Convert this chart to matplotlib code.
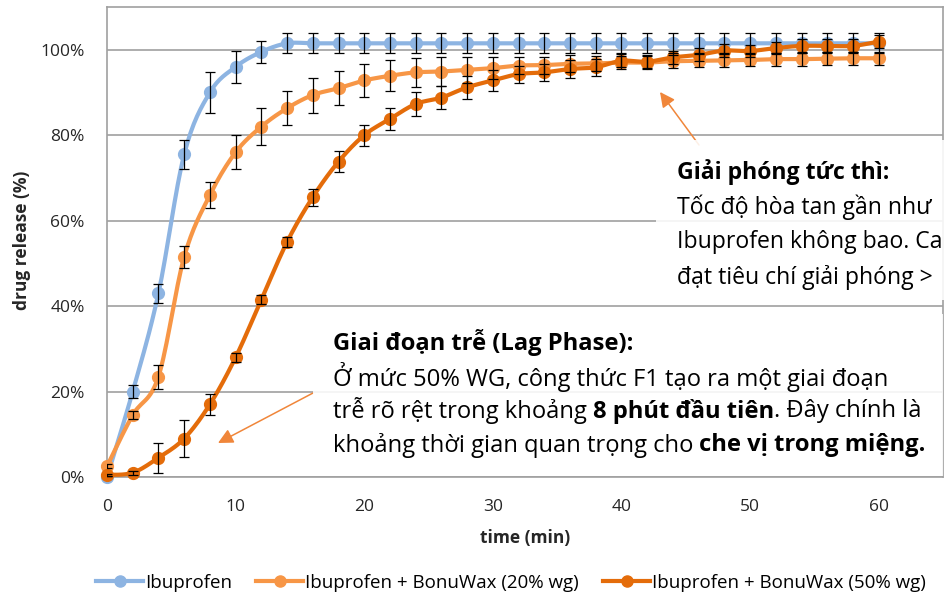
#!/usr/bin/env python

""" Dissolution profile of Ibuprofen with and without BonuWax coating. """

import numpy as np
import matplotlib
matplotlib.use("Agg")
import matplotlib.pyplot as plt
from matplotlib.patches import Rectangle
from matplotlib.ticker import PercentFormatter

plt.rcParams['font.family'] = ['Open Sans', 'DejaVu Sans']

W, H = 945, 604

# Sampling times (min)
time_min = [0, 2, 4, 6, 8, 10, 12, 14, 16, 18, 20, 22, 24, 26, 28, 30,
            32, 34, 36, 38, 40, 42, 44, 46, 48, 50, 52, 54, 56, 58, 60]

# Drug release (%) and standard deviation
ibu = [0, 20, 43, 75.5, 90, 96, 99.5, 101.5,
       101.5, 101.5, 101.5, 101.5, 101.5, 101.5, 101.5, 101.5,
       101.5, 101.5, 101.5, 101.5,
       101.5, 101.5, 101.5, 101.5, 101.5, 101.5, 101.5, 101.5,
       101.5, 101.5, 101.5]
ibu_err = [0.3, 1.5, 2.2, 3.3, 4.7, 3.7, 2.6, 2.3,
           2.3, 2.3, 2.3, 2.3, 2.3, 2.3, 2.3, 2.3, 2.3, 2.3, 2.3, 2.3,
           2.3, 2.3, 2.3, 2.3, 2.3, 2.3, 2.3, 2.3, 2.3, 2.3, 2.3]

wax20 = [2.5, 14.5, 23.5, 51.5, 66, 76, 82, 86.3,
         89.4, 91, 92.8, 93.9, 94.7, 94.9, 95.3, 95.7, 96.3, 96.4, 96.7, 96.8,
         97.0, 97.0, 97.3, 97.4, 97.5, 97.6, 97.8, 97.8, 97.9, 98.0, 98.0]
wax20_err = [0.5, 1, 2.8, 2.5, 3, 4, 4.3, 4,
             4.1, 4, 3.8, 3.6, 3.4, 3.3, 3, 2.5, 2, 2, 2, 1.8,
             1.5, 1.5, 1.5, 1.5, 1.5, 1.5, 1.5, 1.5, 1.5, 1.5, 1.5]

wax50 = [0.5, 1, 4.5, 9, 17, 28, 41.5, 55,
         65.5, 73.8, 80, 83.8, 87.3, 88.8, 91.2, 92.8, 94.3, 94.7, 95.5, 95.9,
         97.4, 97.2, 98.2, 98.8, 99.8, 99.7, 100.4, 100.9, 100.9, 100.9, 101.9]
wax50_err = [0.3, 0.5, 3.5, 4.4, 2.4, 1, 1, 1.2,
             2, 2.5, 2.5, 2.5, 2.9, 2.7, 2.7, 2.5, 2, 2, 2, 2,
             1.5, 1.5, 1.5, 1.5, 1.5, 1.5, 1.5, 1.5, 1.5, 1.5, 1.5]

labels = ["Ibuprofen", "Ibuprofen + BonuWax (20% wg)",
          "Ibuprofen + BonuWax (50% wg)"]
colors = ["#8db4e2", "#f79646", "#e46c0a"]

y_ticks = [0, 20, 40, 60, 80, 100]
x_ticks = [0, 10, 20, 30, 40, 50, 60]


def smooth(x, y, n=16):
    """ Excel-like smoothed line through the points (Bezier segments). """
    p = np.column_stack([np.asarray(x, float), np.asarray(y, float)])
    p = np.vstack([p[0], p, p[-1]])
    t = np.linspace(0, 1, n, endpoint=False)[:, None]
    out = []
    for i in range(1, len(p) - 2):
        p0, p1, p2, p3 = p[i - 1], p[i], p[i + 1], p[i + 2]
        c1 = p1 + (p2 - p0) / 6.0
        c2 = p2 - (p3 - p1) / 6.0
        seg = ((1 - t) ** 3 * p1 + 3 * (1 - t) ** 2 * t * c1
               + 3 * (1 - t) * t ** 2 * c2 + t ** 3 * p2)
        out.append(seg)
    out.append(p[-2][None, :])
    out = np.vstack(out)
    return out[:, 0], out[:, 1]


def px(x, y):
    """ Image pixel (top-left origin) to figure fraction. """
    return x / W, 1 - y / H


fig = plt.figure(figsize=(W / 100, H / 100), dpi=100)
ax = fig.add_axes([107 / W, (H - 477) / H, (943 - 107) / W, (477 - 7) / H])

series = [(ibu, ibu_err), (wax20, wax20_err), (wax50, wax50_err)]
handles = []
for i, (vals, errs) in enumerate(series):
    sx, sy = smooth(time_min, vals)
    ax.plot(sx, sy, color=colors[i], lw=3, zorder=2 + i, clip_on=False,
            solid_capstyle='round')
    ax.plot(time_min, vals, 'o', color=colors[i], ms=8.5, zorder=2 + i,
            clip_on=False)
    ax.errorbar(time_min, vals, yerr=errs, fmt='none', ecolor='black',
                elinewidth=0.9, capsize=3.5, capthick=0.9, zorder=6)
    h, = ax.plot([], [], '-o', color=colors[i], lw=3, ms=8)
    handles.append(h)

ax.set_xlim(0, 65)
ax.set_ylim(0, 110)
ax.set_yticks(y_ticks)
ax.set_xticks(x_ticks)
ax.yaxis.set_major_formatter(PercentFormatter(100, decimals=0))
ax.tick_params(axis='both', length=0, labelsize=12.5, colors='#262626')
ax.tick_params(axis='y', pad=16)
ax.tick_params(axis='x', pad=16)
ax.grid(axis='y', color='#a0a0a0', lw=1.2, zorder=0)
for side in ['left', 'bottom', 'top', 'right']:
    ax.spines[side].set_color('#a0a0a0')
    ax.spines[side].set_linewidth(1.2)

fig.text(*px(22, 240), "drug release (%)", rotation=90, fontsize=12.5,
         fontweight='bold', ha='center', va='center', color='#262626')
fig.text(*px(525, 538), "time (min)", fontsize=12.5, fontweight='bold',
         ha='center', va='center', color='#262626')

fig.legend(handles, labels, loc='center', bbox_to_anchor=px(511, 583),
           ncol=3, frameon=False, fontsize=13.5, handlelength=2.5,
           handletextpad=0.1, columnspacing=1.3)

# Annotation boxes (semi-transparent white, no border)
for x0, y0, x1, y1 in [(656, 140, 960, 300), (313, 314, 943, 476)]:
    fig.patches.append(Rectangle(px(x0, y1), (x1 - x0) / W, (y1 - y0) / H,
                                 transform=fig.transFigure, facecolor='white',
                                 alpha=0.88, edgecolor='none', zorder=8))

renderer = fig.canvas.get_renderer()


def rich_line(x, y, parts, size=16.6):
    for s, bold in parts:
        t = fig.text(*px(x, y), s, fontsize=size, va='center', ha='left',
                     fontweight='bold' if bold else 'normal', zorder=9,
                     color='black')
        x += t.get_window_extent(renderer).width


box1 = [
    [("Giải phóng tức thì:", True)],
    [("Tốc độ hòa tan gần như", False)],
    [("Ibuprofen không bao. Ca", False)],
    [("đạt tiêu chí giải phóng >", False)],
]
for k, parts in enumerate(box1):
    rich_line(677, 172 + 35 * k, parts)

box2 = [
    [("Giai đoạn trễ (Lag Phase):", True)],
    [("Ở mức 50% WG, công thức F1 tạo ra một giai đoạn", False)],
    [("trễ rõ rệt trong khoảng ", False), ("8 phút đầu tiên", True),
     (". Đây chính là", False)],
    [("khoảng thời gian quan trọng cho ", False),
     ("che vị trong miệng.", True)],
]
for k, parts in enumerate(box2):
    rich_line(333, 343 + 34 * k, parts, size=17.1)

# Arrows
arrow_style = dict(arrowstyle='-|>,head_length=0.9,head_width=0.45',
                   color='#f0863a', lw=1.1, shrinkA=0, shrinkB=0)
ax.annotate("", xy=(660, H - 92), xytext=(699, H - 145),
            xycoords='figure pixels', textcoords='figure pixels',
            arrowprops=arrow_style, zorder=9)
ax.annotate("", xy=(218, H - 443), xytext=(313, H - 393),
            xycoords='figure pixels', textcoords='figure pixels',
            arrowprops=arrow_style, zorder=9)

fig.savefig("out.png", dpi=100)
